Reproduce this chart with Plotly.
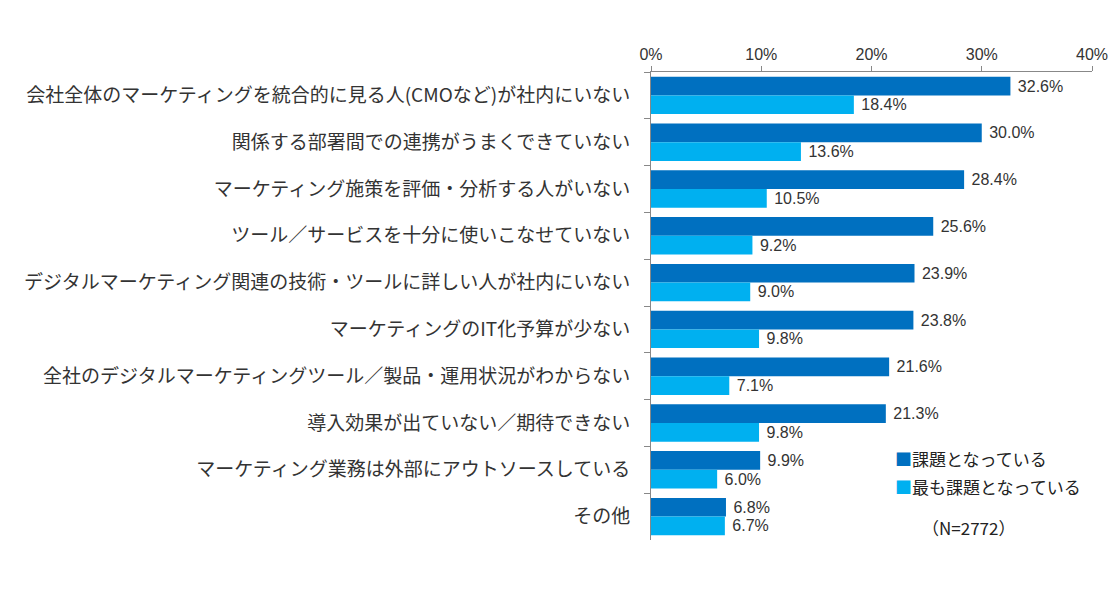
import plotly.graph_objects as go

categories = [
    "会社全体のマーケティングを統合的に見る人(CMOなど)が社内にいない",
    "関係する部署間での連携がうまくできていない",
    "マーケティング施策を評価・分析する人がいない",
    "ツール／サービスを十分に使いこなせていない",
    "デジタルマーケティング関連の技術・ツールに詳しい人が社内にいない",
    "マーケティングのIT化予算が少ない",
    "全社のデジタルマーケティングツール／製品・運用状況がわからない",
    "導入効果が出ていない／期待できない",
    "マーケティング業務は外部にアウトソースしている",
    "その他",
]
issue = [32.6, 30.0, 28.4, 25.6, 23.9, 23.8, 21.6, 21.3, 9.9, 6.8]
top_issue = [18.4, 13.6, 10.5, 9.2, 9.0, 9.8, 7.1, 9.8, 6.0, 6.7]
series_names = ["課題となっている", "最も課題となっている"]
colors = ["#0070C0", "#00B0F0"]
sample_note = "（N=2772）"

jp_font = "Noto Sans CJK JP, Meiryo, sans-serif"
num_font = "Liberation Sans, Arial, sans-serif"

fig = go.Figure()
for name, vals, col in zip(series_names, [issue, top_issue], colors):
    fig.add_trace(go.Bar(
        y=categories, x=vals, name=name, orientation="h",
        marker=dict(color=col, line=dict(width=0)),
        text=[f" {v:.1f}%" for v in vals], textposition="outside",
        textfont=dict(family=num_font, size=16, color="#333333"),
        cliponaxis=False, showlegend=False,
    ))

# legend drawn as text so the swatch sits right next to the label
legend_notes = []
for i, (name, col) in enumerate(zip(series_names, colors)):
    legend_notes.append(dict(
        text=f"<span style='color:{col}'>■</span>{name}",
        x=0.549, y=0.175 - i * 0.06, xref="paper", yref="paper",
        xanchor="left", yanchor="middle", showarrow=False,
        font=dict(family=jp_font, size=17, color="#222222"),
    ))

fig.update_layout(
    width=1120, height=589,
    margin=dict(l=643, r=36, t=64, b=57),
    barmode="group", bargap=0.2, bargroupgap=0,
    plot_bgcolor="white", paper_bgcolor="white",
    font=dict(family=jp_font, color="#333333"),
    showlegend=False,
    xaxis=dict(
        side="top", range=[0, 40], dtick=10, ticksuffix="%",
        showgrid=False, zeroline=False, showline=True,
        linecolor="#888888", linewidth=1,
        ticks="outside", ticklen=5, tickcolor="#888888",
        tickfont=dict(family=num_font, size=16, color="#333333"),
    ),
    yaxis=dict(
        autorange="reversed", showgrid=False, showline=True,
        linecolor="#888888", linewidth=1,
        ticks="outside", ticklen=6, tickcolor="#888888",
        tickson="boundaries", ticklabelstandoff=16,
        tickfont=dict(family=jp_font, size=19, color="#333333"),
    ),
    annotations=legend_notes + [dict(
        text=sample_note, x=0.72, y=0.026, xref="paper", yref="paper",
        xanchor="center", yanchor="middle", showarrow=False,
        font=dict(family=jp_font, size=17, color="#222222"),
    )],
)

fig.write_html("out.html")
